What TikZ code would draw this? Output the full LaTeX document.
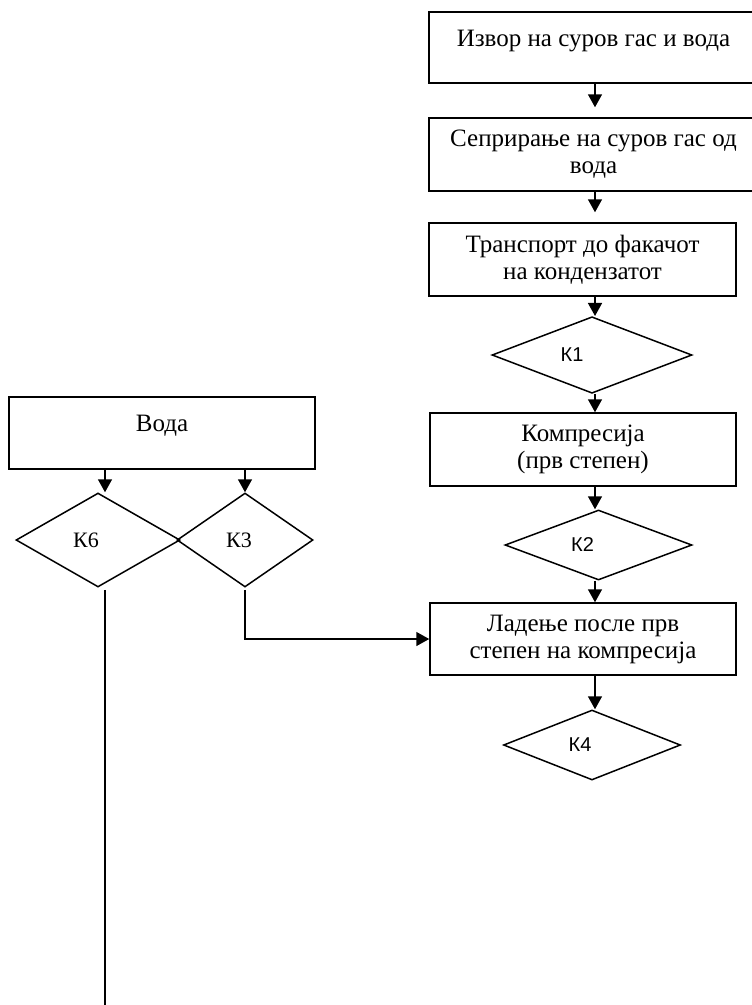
\documentclass[tikz,border=0pt]{standalone}
\usepackage{fontspec}
\setmainfont{Liberation Serif}
\newfontfamily\kfont{Liberation Sans}
\usetikzlibrary{shapes.geometric,arrows.meta}

\begin{document}
\begin{tikzpicture}[x=1pt,y=-1pt,>={Triangle[width=14pt,length=13pt]},line width=1.5pt]
	\tikzstyle{block} = [rectangle,draw,align=center,inner sep=0pt,font=\fontsize{25}{27}\selectfont]
	\tikzstyle{check} = [diamond,draw,inner sep=0pt,font=\fontsize{20}{24}\selectfont\kfont]
	\tikzstyle{check2} = [diamond,draw,inner sep=0pt,font=\fontsize{22}{24}\selectfont]
	
	\useasboundingbox (0,0) rectangle (752,1005);
	
	% main line
	\node[block,minimum width=329pt,minimum height=71pt] (src) at (593.5,47.5) {Извор на суров гас и вода\\[-8pt]\mbox{}};
	\node[block,minimum width=329pt,minimum height=73pt] (sep) at (593.5,154.5) {Сеприрање на суров гас од\\вода};
	\node[block,minimum width=307pt,minimum height=73pt] (trans) at (582.5,259.5) {Транспорт до факачот\\на кондензатот};
	\node[check,minimum width=200pt,minimum height=70pt] (k1) at (592,355) {К1\hspace*{40pt}};
	\node[block,minimum width=306pt,minimum height=73pt] (comp) at (583,449.5) {Компресија\\(прв степен)};
	\node[check,minimum width=187pt,minimum height=70pt] (k2) at (598.5,545) {К2\hspace*{32pt}};
	\node[block,minimum width=306pt,minimum height=72pt] (cool) at (583,639) {Ладење после прв\\степен на компресија};
	\node[check,minimum width=177pt,minimum height=70pt] (k4) at (592,745) {К4\hspace*{24pt}};
	
	% water
	\node[block,minimum width=306pt,minimum height=72pt] (water) at (162,433) {Вода\\[-8pt]\mbox{}};
	\node[check2,minimum width=164pt,minimum height=94pt] (k6) at (98,540) {К6\hspace*{24pt}};
	\node[check2,minimum width=136pt,minimum height=94pt] (k3) at (245,540) {К3\hspace*{12pt}};
	
	\coordinate (axis) at (595,0);
	\coordinate (lax) at (105,0);
	\coordinate (lend) at (105,1005);
	
	\draw[->,shorten >=10pt] (src.south -| axis) -- (sep.north -| axis);
	\draw[->,shorten >=10pt] (sep.south -| axis) -- (trans.north -| axis);
	\draw[->] (trans.south -| axis) -- (k1.north -| axis);
	\draw[->] (k1.south -| axis) -- (comp.north -| axis);
	\draw[->] (comp.south -| axis) -- (k2.north -| axis);
	\draw[->] (k2.south -| axis) -- (cool.north -| axis);
	\draw[->] (cool.south -| axis) -- (k4.north -| axis);
	
	\draw[->] (water.south -| lax) -- (k6.north -| lax);
	\draw[->] (water.south -| k3.north) -- (k3.north);
	\draw ([yshift=-2pt]k6.south -| lend) -- (lend);
	\draw[->] ([yshift=-2pt]k3.south) |- (cool.west);
\end{tikzpicture}
\end{document}
